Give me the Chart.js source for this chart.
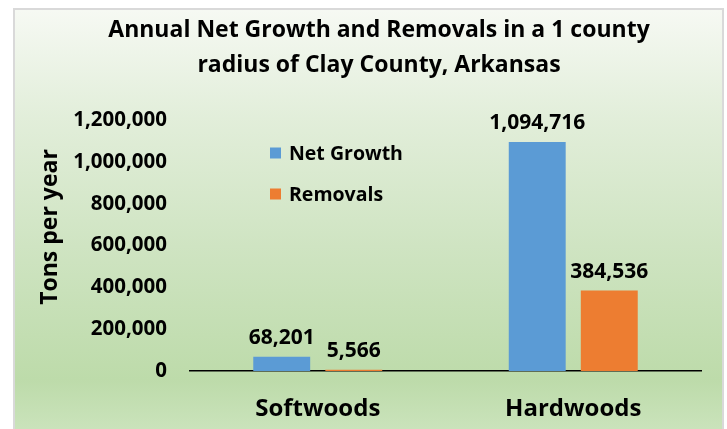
<!DOCTYPE html>
<html>
<head>
<meta charset="utf-8">
<script src="https://cdn.jsdelivr.net/npm/chart.js@4"></script>
<style>
  html, body { margin: 0; padding: 0; background: #fff; overflow: hidden; }
  #box {
    position: absolute; left: 13px; top: 8px; width: 707px; height: 430px;
    border: 2px solid #d9d9d9;
    background: linear-gradient(to bottom, #f6f9f3 0%, #e2eeda 25%, #cfe4c2 55%, #bddbaa 86%, #cde5bf 100%);
  }
  #wrap { position: absolute; left: 0; top: 0; width: 707px; height: 419px; }
</style>
</head>
<body>
<div id="box"><div id="wrap"><canvas id="chart"></canvas></div></div>
<script>
// chart data
const categories = ['Softwoods', 'Hardwoods'];
const netGrowth = [68201, 1094716];
const removals = [5566, 384536];
const seriesNames = ['Net Growth', 'Removals'];
const seriesColors = ['#5b9bd5', '#ed7d31'];
const titleLines = ['Annual Net Growth and Removals in a 1 county', 'radius of Clay County, Arkansas'];
const yTitle = 'Tons per year';

const FONT = '"Open Sans", Lato, sans-serif';
const fmt = (v) => v.toLocaleString('en-US');

/** Chart title and rotated y title, placed like the Excel original (not centred on the plot). */
const textPlugin = {
  id: 'chartTexts',
  afterDraw: (chart) => {
    const { ctx } = chart;
    ctx.save();
    ctx.fillStyle = '#000';
    ctx.textAlign = 'center';
    ctx.textBaseline = 'middle';
    ctx.font = `bold 23px ${FONT}`;
    titleLines.forEach((line, i) => ctx.fillText(line, 364, 20.5 + i * 35));
    ctx.translate(35, 217);
    ctx.rotate(-Math.PI / 2);
    ctx.font = `bold 23px ${FONT}`;
    ctx.fillText(yTitle, 0, 0);
    ctx.restore();
  },
};

/** Value labels above each bar. */
const barLabelPlugin = {
  id: 'barLabels',
  afterDatasetsDraw: (chart) => {
    const { ctx } = chart;
    ctx.save();
    ctx.font = `bold 21px ${FONT}`;
    ctx.fillStyle = '#000';
    ctx.textAlign = 'center';
    ctx.textBaseline = 'alphabetic';
    chart.data.datasets.forEach((ds, i) => {
      chart.getDatasetMeta(i).data.forEach((bar, j) => {
        ctx.fillText(fmt(ds.data[j]), bar.x, bar.y - 13);
      });
    });
    ctx.restore();
  },
};

/** Legend drawn inside the plot, stacked vertically. */
const inLegendPlugin = {
  id: 'inLegend',
  afterDraw: (chart) => {
    const { ctx } = chart;
    ctx.save();
    ctx.font = `bold 19.5px ${FONT}`;
    ctx.textBaseline = 'middle';
    chart.data.datasets.forEach((ds, i) => {
      const cy = 143 + i * 41;
      ctx.fillStyle = ds.backgroundColor;
      ctx.fillRect(255, cy - 5.5, 11, 11);
      ctx.fillStyle = '#000';
      ctx.fillText(ds.label, 274, cy + 1);
    });
    ctx.restore();
  },
};

new Chart(document.getElementById('chart'), {
  type: 'bar',
  data: {
    labels: categories,
    datasets: [
      { label: seriesNames[0], data: netGrowth, backgroundColor: seriesColors[0] },
      { label: seriesNames[1], data: removals, backgroundColor: seriesColors[1] },
    ],
  },
  plugins: [barLabelPlugin, inLegendPlugin, textPlugin],
  options: {
    responsive: true,
    maintainAspectRatio: false,
    animation: false,
    layout: { padding: { left: 0, right: 21, top: 110, bottom: 0 } },
    datasets: { bar: { categoryPercentage: 0.564, barPercentage: 0.79 } },
    plugins: {
      legend: { display: false },
      tooltip: { enabled: false },
      title: { display: false },
    },
    scales: {
      x: {
        z: 1,
        grid: { display: false, drawTicks: false },
        border: { display: true, color: '#000', width: 1.5 },
        ticks: { color: '#000', padding: 24, font: { family: FONT, size: 24, weight: 'bold' } },
        afterFit: (s) => { s.height = 58; },
      },
      y: {
        min: 0, max: 1200000,
        grid: { display: false, drawTicks: false },
        border: { display: false },
        ticks: {
          stepSize: 200000, color: '#000', padding: 23,
          font: { family: FONT, size: 20.5, weight: 'bold' },
          callback: (v) => fmt(v),
        },
        afterFit: (s) => { s.width = 175; },
      },
    },
  },
});
</script>
</body>
</html>
